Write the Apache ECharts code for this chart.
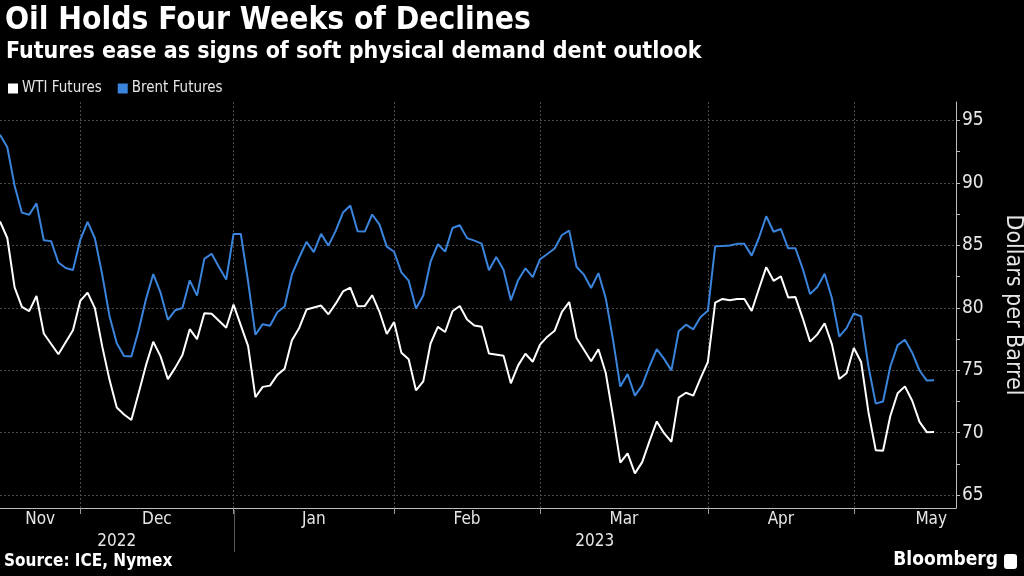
<!DOCTYPE html>
<html>
<head>
<meta charset="utf-8">
<script src="https://cdn.jsdelivr.net/npm/echarts@6/dist/echarts.min.js"></script>
<style>
  html, body { margin: 0; padding: 0; background: #000; }
  #chart { width: 1024px; height: 576px; }
</style>
</head>
<body>
<div id="chart"></div>
<script>
// ---- Data (trading days; null = no settlement that day) ----
const dates = [
  '2022-11-15','2022-11-16','2022-11-17','2022-11-18','2022-11-21','2022-11-22','2022-11-23','2022-11-24','2022-11-25','2022-11-28','2022-11-29','2022-11-30',
  '2022-12-01','2022-12-02','2022-12-05','2022-12-06','2022-12-07','2022-12-08','2022-12-09','2022-12-12','2022-12-13','2022-12-14','2022-12-15','2022-12-16','2022-12-19','2022-12-20','2022-12-21','2022-12-22','2022-12-23','2022-12-27','2022-12-28','2022-12-29','2022-12-30',
  '2023-01-02','2023-01-03','2023-01-04','2023-01-05','2023-01-06','2023-01-09','2023-01-10','2023-01-11','2023-01-12','2023-01-13','2023-01-16','2023-01-17','2023-01-18','2023-01-19','2023-01-20','2023-01-23','2023-01-24','2023-01-25','2023-01-26','2023-01-27','2023-01-30','2023-01-31',
  '2023-02-01','2023-02-02','2023-02-03','2023-02-06','2023-02-07','2023-02-08','2023-02-09','2023-02-10','2023-02-13','2023-02-14','2023-02-15','2023-02-16','2023-02-17','2023-02-20','2023-02-21','2023-02-22','2023-02-23','2023-02-24','2023-02-27','2023-02-28',
  '2023-03-01','2023-03-02','2023-03-03','2023-03-06','2023-03-07','2023-03-08','2023-03-09','2023-03-10','2023-03-13','2023-03-14','2023-03-15','2023-03-16','2023-03-17','2023-03-20','2023-03-21','2023-03-22','2023-03-23','2023-03-24','2023-03-27','2023-03-28','2023-03-29','2023-03-30','2023-03-31',
  '2023-04-03','2023-04-04','2023-04-05','2023-04-06','2023-04-07','2023-04-10','2023-04-11','2023-04-12','2023-04-13','2023-04-14','2023-04-17','2023-04-18','2023-04-19','2023-04-20','2023-04-21','2023-04-24','2023-04-25','2023-04-26','2023-04-27','2023-04-28',
  '2023-05-01','2023-05-02','2023-05-03','2023-05-04','2023-05-05','2023-05-08','2023-05-09','2023-05-10','2023-05-11','2023-05-12','2023-05-15',
  '2023-05-16','2023-05-17','2023-05-18'
];

const brent = [
  93.86,92.86,89.78,87.62,87.45,88.36,85.41,85.34,83.63,83.19,83.03,85.43,
  86.88,85.57,82.68,79.35,77.17,76.15,76.10,78.20,80.68,82.70,81.21,79.04,79.80,79.99,82.20,80.98,83.92,84.33,83.26,82.26,85.91,
  85.91,82.10,77.84,78.69,78.57,79.65,80.10,82.67,84.03,85.28,84.46,85.92,84.98,86.16,87.63,88.19,86.13,86.12,87.47,86.66,84.90,84.49,
  82.84,82.17,79.94,80.99,83.69,85.09,84.50,86.39,86.61,85.58,85.38,85.14,83.00,84.07,83.05,80.60,82.21,83.16,82.45,83.89,
  84.31,84.75,85.83,86.18,83.29,82.66,81.59,82.78,80.77,77.45,73.69,74.70,72.97,73.79,75.32,76.69,75.91,74.99,78.12,78.65,78.28,79.27,79.77,
  84.93,84.94,84.99,85.12,85.12,84.18,85.61,87.33,86.09,86.31,84.76,84.77,83.12,81.10,81.66,82.73,80.77,77.69,78.37,79.54,
  79.31,75.32,72.33,72.50,75.30,77.01,77.44,76.41,74.98,74.17,74.20,
  null,null,null
];

const wti = [
  86.92,85.59,81.64,80.08,79.73,80.95,77.94,null,76.28,77.24,78.20,80.55,
  81.22,79.98,76.93,74.25,72.01,71.46,71.02,73.17,75.39,77.28,76.11,74.29,75.19,76.23,78.29,77.49,79.56,79.53,78.96,78.40,80.26,
  null,76.93,72.84,73.67,73.77,74.63,75.12,77.41,78.39,79.86,null,80.18,79.48,80.33,81.31,81.62,80.13,80.15,81.01,79.68,77.90,78.87,
  76.41,75.88,73.39,74.11,77.14,78.47,78.06,79.72,80.14,79.06,78.59,78.49,76.34,null,76.16,73.95,75.39,76.32,75.68,77.05,
  77.69,78.16,79.68,80.46,77.58,76.66,75.72,76.68,74.80,71.33,67.61,68.35,66.74,67.64,69.33,70.90,69.96,69.26,72.81,73.20,72.97,74.37,75.67,
  80.42,80.71,80.61,80.70,80.70,79.74,81.53,83.26,82.16,82.52,80.83,80.86,79.16,77.29,77.87,78.76,77.07,74.30,74.76,76.78,
  75.66,71.66,68.60,68.56,71.34,73.16,73.71,72.56,70.87,70.04,70.05,
  null,null,null
];

const seriesNames = ['WTI Futures', 'Brent Futures'];
const majorTicks = [65, 70, 75, 80, 85, 90, 95];
const minorTicks = [67.5, 72.5, 77.5, 82.5, 87.5, 92.5];
const monthNames = ['Jan','Feb','Mar','Apr','May','Jun','Jul','Aug','Sep','Oct','Nov','Dec'];

// ---- Styling ----
const FONT = "'Liberation Sans Narrow', 'DejaVu Sans Condensed', 'Roboto Condensed', 'Liberation Sans', sans-serif";
const WHITE = '#ffffff';
const BLUE = '#3a84dc';
const TEXT = '#e6e6e6';
const GRIDC = '#4a4a4a';

// month-end indices (last trading day of each month)
const monthEnd = new Set();
for (let i = 0; i < dates.length - 1; i++) {
  if (dates[i].slice(5, 7) !== dates[i + 1].slice(5, 7)) monthEnd.add(i);
}
const yearEnd = [];
for (let i = 0; i < dates.length - 1; i++) {
  if (dates[i].slice(0, 4) !== dates[i + 1].slice(0, 4)) yearEnd.push(i);
}

const chart = echarts.init(document.getElementById('chart'), null, { renderer: 'canvas' });

chart.setOption({
  backgroundColor: '#000',
  animation: false,
  textStyle: { fontFamily: FONT },
  title: [
    { text: 'Oil Holds Four Weeks of Declines', left: 0, top: 0,
      textStyle: { color: WHITE, fontSize: 31.5, fontWeight: 'bold', fontFamily: FONT } },
    { text: 'Futures ease as signs of soft physical demand dent outlook', left: 1, top: 36,
      textStyle: { color: WHITE, fontSize: 23, fontWeight: 'bold', fontFamily: FONT } }
  ],
  legend: {
    data: seriesNames, left: 3, top: 76, icon: 'rect', itemWidth: 10, itemHeight: 10, itemGap: 16,
    textStyle: { color: TEXT, fontSize: 15, fontFamily: FONT, padding: [0, 0, 0, -1] }
  },
  grid: { left: 0, right: 68, top: 102, bottom: 68, containLabel: false, outerBoundsMode: 'none' },
  xAxis: {
    type: 'category', data: dates, boundaryGap: false,
    axisLine: { show: true, lineStyle: { color: '#bdbdbd', width: 1 } },
    axisTick: { show: true, interval: (i) => monthEnd.has(i), length: 6, lineStyle: { color: '#9a9a9a' } },
    axisLabel: { show: false },
    splitLine: { show: true, interval: (i) => monthEnd.has(i), lineStyle: { color: GRIDC, type: [2, 2], width: 1 } }
  },
  yAxis: [
    { type: 'value', position: 'right', min: 63.97, max: 96.48,
      name: 'Dollars per Barrel', nameLocation: 'middle', nameRotate: -90, nameGap: 45,
      nameTextStyle: { color: TEXT, fontSize: 23, fontFamily: FONT },
      axisLine: { show: true, lineStyle: { color: '#bdbdbd', width: 1 } },
      axisTick: { show: true, customValues: majorTicks, length: 4, lineStyle: { color: '#bdbdbd' } },
      axisLabel: { show: true, customValues: majorTicks, color: TEXT, fontSize: 19, margin: 6, fontFamily: FONT },
      splitLine: { show: true, lineStyle: { color: GRIDC, type: [2, 2], width: 1 } }
    },
    { type: 'value', position: 'right', min: 63.97, max: 96.48,
      axisLine: { show: false },
      axisTick: { show: true, customValues: minorTicks, length: 4, lineStyle: { color: '#bdbdbd' } },
      axisLabel: { show: false },
      splitLine: { show: false }
    }
  ],
  series: [
    { name: seriesNames[0], type: 'line', data: wti, yAxisIndex: 0, showSymbol: false, connectNulls: true,
      lineStyle: { color: WHITE, width: 2 }, itemStyle: { color: WHITE }, z: 3 },
    { name: seriesNames[1], type: 'line', data: brent, yAxisIndex: 0, showSymbol: false, connectNulls: true,
      lineStyle: { color: BLUE, width: 2 }, itemStyle: { color: BLUE }, z: 2 }
  ]
});

// ---- x-axis labels (months centred between month ticks, years below) ----
function px(i) { return chart.convertToPixel({ xAxisIndex: 0 }, i); }
const ctx = document.createElement('canvas').getContext('2d');
const LABEL_FONT_SIZE = 17;
ctx.font = LABEL_FONT_SIZE + 'px ' + FONT;

const plotLeft = px(0);
const plotRight = px(dates.length - 1);
const ends = [...monthEnd].map(px);
// full-month width used for the last, still-running month
const avgMonth = (ends[ends.length - 1] - ends[0]) / (ends.length - 1);
const bounds = [plotLeft].concat(ends).concat([ends[ends.length - 1] + avgMonth]);
const startIdx = [0].concat([...monthEnd].map(i => i + 1));
const graphics = [];
for (let k = 0; k < bounds.length - 1; k++) {
  const name = monthNames[parseInt(dates[startIdx[k]].slice(5, 7), 10) - 1];
  let cx = (bounds[k] + bounds[k + 1]) / 2;
  const w = ctx.measureText(name).width;
  if (cx + w / 2 > plotRight - 4) cx = plotRight - 4 - w / 2;
  graphics.push({ type: 'text', x: cx, y: 520, style: { text: name, fill: TEXT, font: LABEL_FONT_SIZE + 'px ' + FONT, textAlign: 'center', textVerticalAlign: 'middle' } });
}
const yb = [plotLeft].concat(yearEnd.map(px)).concat([plotRight]);
const yStart = [0].concat(yearEnd.map(i => i + 1));
for (let k = 0; k < yb.length - 1; k++) {
  graphics.push({ type: 'text', x: (yb[k] + yb[k + 1]) / 2, y: 542, style: { text: dates[yStart[k]].slice(0, 4), fill: TEXT, font: LABEL_FONT_SIZE + 'px ' + FONT, textAlign: 'center', textVerticalAlign: 'middle' } });
}
yearEnd.forEach(i => {
  const x = Math.round(px(i)) + 0.5;
  graphics.push({ type: 'line', shape: { x1: x, y1: 510, x2: x, y2: 552 }, style: { stroke: '#5a5a5a', lineWidth: 1 } });
});
graphics.push({ type: 'text', left: 4, top: 553, style: { text: 'Source: ICE, Nymex', fill: WHITE, font: 'bold 17px ' + FONT } });
graphics.push({ type: 'text', right: 26, top: 551, style: { text: 'Bloomberg', fill: WHITE, font: 'bold 19px ' + FONT } });
graphics.push({ type: 'rect', right: 7, top: 554, shape: { width: 13, height: 15, r: 3 }, style: { fill: WHITE } });
chart.setOption({ graphic: graphics });
</script>
</body>
</html>
